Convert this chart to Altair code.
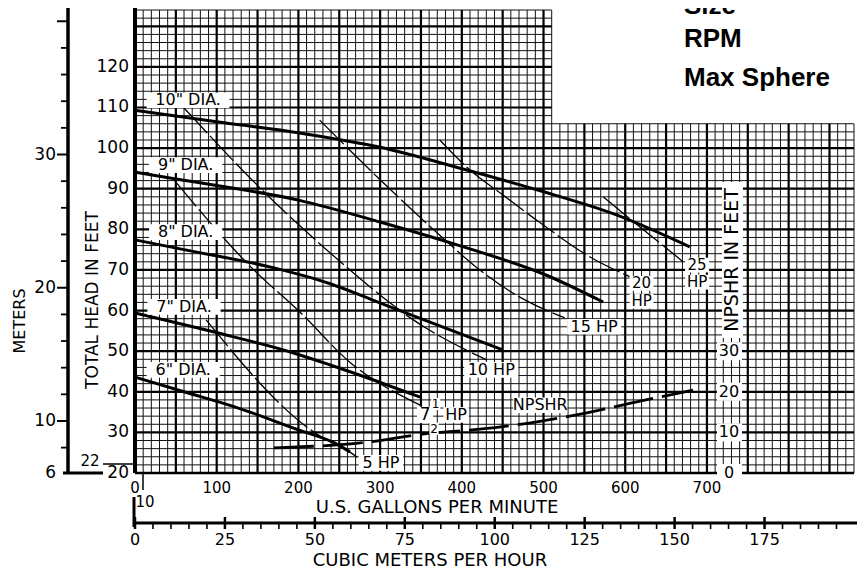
import altair as alt
import pandas as pd

# ---------------- values ----------------
GPM_TICKS = [0, 100, 200, 300, 400, 500, 600, 700]
HEAD_TICKS = [20, 30, 40, 50, 60, 70, 80, 90, 100, 110, 120]
M3H_TICKS = [0, 25, 50, 75, 100, 125, 150, 175]
METER_LABELS = [6, 10, 20, 30]
NPSHR_TICKS = [0, 10, 20, 30]

DIA10_GPM = [0, 100, 202, 300, 406, 496, 590, 679]
DIA10_FT = [109.3, 106.5, 103.7, 100.2, 94.6, 89.5, 83.5, 75.7]
DIA9_GPM = [0, 50, 100, 200, 300, 400, 500, 573]
DIA9_FT = [94.1, 92.4, 90.8, 87.2, 81.8, 75.8, 69.0, 62.1]
DIA8_GPM = [0, 60, 170, 239, 292, 345, 450]
DIA8_FT = [77.4, 75.0, 70.5, 66.6, 62.5, 58.4, 50.3]
DIA7_GPM = [0, 97, 195, 239, 292, 349]
DIA7_FT = [59.4, 54.7, 49.5, 46.6, 42.9, 38.7]
DIA6_GPM = [0, 60, 122, 200, 244, 263]
DIA6_FT = [43.6, 40.0, 36.3, 30.6, 27.4, 25.2]

HP5_GPM = [87, 228, 259, 272]
HP5_FT = [57.7, 28.9, 25.7, 23.9]
HP7_GPM = [48, 142, 203, 264, 349]
HP7_FT = [92.1, 70.7, 59.4, 47.1, 36.7]
HP10_GPM = [60, 158, 259, 312, 337, 431]
HP10_FT = [109.9, 89.2, 70.7, 61.9, 58.2, 47.8]
HP15_GPM = [226, 300, 370, 422, 471, 526]
HP15_FT = [106.9, 92.2, 79.1, 70.0, 63.3, 58.2]
HP20_GPM = [373, 410, 450, 496, 557, 606]
HP20_FT = [102.0, 94.6, 88.5, 81.6, 73.2, 68.3]
HP25_GPM = [573, 618, 671]
HP25_FT = [88.0, 80.6, 72.0]

NPSHR_GPM = [170, 284, 352, 422, 492, 553, 618, 683]
NPSHR_FT = [6.2, 7.6, 9.6, 10.8, 12.6, 14.8, 17.7, 20.4]

CURVE_LABELS = ['10" DIA.', '9" DIA.', '8" DIA.', '7" DIA.', '6" DIA.',
                "5 HP", "7", "HP", "10 HP", "15 HP", "20", "HP", "25", "HP", "NPSHR"]
LABEL_GPM = [65, 62, 62, 60, 59, 301, 355, 393, 436, 562, 620, 620, 688, 688, 496]
LABEL_FT = [111.8, 95.8, 79.3, 60.9, 45.4, 22.5, 34.3, 34.3, 45.4, 56.0,
            66.7, 62.3, 71.2, 67.0, 36.7]
LABEL_SIZE = [16, 16, 16, 16, 16, 16, 17, 16, 16, 16, 15, 15, 15, 15, 16]
FRAC_TEXT = ["1", "2"]
FRAC_GPM = [368, 366]
FRAC_FT = [37.0, 30.9]

GPM_PER_M3H = 4.40287
FT_PER_M = 3.28084
HEAD_MIN, HEAD_MAX = 20, 134.5
GPM_MAX = 880
UPPER_GPM = 510      # upper part of the grid paper ends here
RIGHT_TOP = 106      # right part of the grid paper starts at this head

W, H = 719, 465
PX_PER_GPM = W / GPM_MAX
PX_PER_FT = H / (HEAD_MAX - HEAD_MIN)

FONT = "DejaVu Sans"

XS = alt.Scale(domain=[0, GPM_MAX], nice=False, zero=False)
YS = alt.Scale(domain=[HEAD_MIN, HEAD_MAX], nice=False, zero=False)


def X(f):
    return alt.X(f, type="quantitative", scale=XS, axis=None)


def Y(f):
    return alt.Y(f, type="quantitative", scale=YS, axis=None)


# ---------------- grid paper ----------------
v_rows = []
for g in range(0, GPM_MAX + 1, 10):
    top = 134 if g <= UPPER_GPM else RIGHT_TOP
    v_rows.append({"gpm": g, "y0": HEAD_MIN, "y1": top, "heavy": g % 50 == 0})
vgrid = pd.DataFrame(v_rows)
h_rows = []
for h in range(HEAD_MIN, 135, 2):
    right = UPPER_GPM if h > RIGHT_TOP else GPM_MAX
    h_rows.append({"ft": h, "x0": 0, "x1": right, "heavy": h % 10 == 0})
hgrid = pd.DataFrame(h_rows)

grid_v_minor = alt.Chart(vgrid[~vgrid.heavy]).mark_rule(color="#111", strokeWidth=1).encode(
    x=X("gpm"), y=Y("y0"), y2=alt.Y2("y1"))
grid_h_minor = alt.Chart(hgrid[~hgrid.heavy]).mark_rule(color="#111", strokeWidth=1).encode(
    y=Y("ft"), x=X("x0"), x2=alt.X2("x1"))
grid_v_major = alt.Chart(vgrid[vgrid.heavy]).mark_rule(color="black", strokeWidth=2.2).encode(
    x=X("gpm"), y=Y("y0"), y2=alt.Y2("y1"))
grid_h_major = alt.Chart(hgrid[hgrid.heavy]).mark_rule(color="black", strokeWidth=2.2).encode(
    y=Y("ft"), x=X("x0"), x2=alt.X2("x1"))

frame_left = alt.Chart(pd.DataFrame({"gpm": [0], "a": [HEAD_MIN], "b": [HEAD_MAX]})).mark_rule(
    color="black", strokeWidth=4).encode(x=X("gpm"), y=Y("a"), y2=alt.Y2("b"))
frame_bottom = alt.Chart(pd.DataFrame({"ft": [HEAD_MIN], "a": [0], "b": [GPM_MAX]})).mark_rule(
    color="black", strokeWidth=2.5).encode(y=Y("ft"), x=X("a"), x2=alt.X2("b"))


# ---------------- curves ----------------
def long(pairs):
    rows = []
    for name, xs, ys in pairs:
        for a, b in zip(xs, ys):
            rows.append({"series": name, "gpm": a, "ft": b})
    return pd.DataFrame(rows)


dia_df = long([("10in", DIA10_GPM, DIA10_FT), ("9in", DIA9_GPM, DIA9_FT),
               ("8in", DIA8_GPM, DIA8_FT), ("7in", DIA7_GPM, DIA7_FT),
               ("6in", DIA6_GPM, DIA6_FT)])
hp_df = long([("5hp", HP5_GPM, HP5_FT), ("7.5hp", HP7_GPM, HP7_FT),
              ("10hp", HP10_GPM, HP10_FT), ("15hp", HP15_GPM, HP15_FT),
              ("20hp", HP20_GPM, HP20_FT), ("25hp", HP25_GPM, HP25_FT)])
npshr_df = pd.DataFrame({"gpm": NPSHR_GPM, "npshr": NPSHR_FT})

hp_lines = alt.Chart(hp_df).mark_line(
    color="black", strokeWidth=1.3, strokeDash=[34, 4], interpolate="monotone").encode(
    x=X("gpm"), y=Y("ft"), detail="series:N")
dia_lines = alt.Chart(dia_df).mark_line(
    color="black", strokeWidth=3, interpolate="monotone").encode(
    x=X("gpm"), y=Y("ft"), detail="series:N")
npshr_line = alt.Chart(npshr_df).transform_calculate(
    pos=f"datum.npshr + {HEAD_MIN}").mark_line(
    color="black", strokeWidth=2.8, strokeDash=[40, 9], interpolate="monotone").encode(
    x=X("gpm"), y=Y("pos"))


# ---------------- labels on the grid, each on a white box ----------------
def with_box(df, pad=3):
    d = df.copy()
    wpx = d["t"].str.len() * 0.6 * d["size"] + 2 * pad
    hpx = d["size"] * 0.85 + 2
    d["bx0"] = d["gpm"] - wpx / 2 / PX_PER_GPM
    d["bx1"] = d["gpm"] + wpx / 2 / PX_PER_GPM
    d["by0"] = d["ft"] - hpx / 2 / PX_PER_FT
    d["by1"] = d["ft"] + hpx / 2 / PX_PER_FT
    return d


lab_df = with_box(pd.DataFrame({"t": CURVE_LABELS, "gpm": LABEL_GPM, "ft": LABEL_FT,
                                "size": LABEL_SIZE}))
frac_df = with_box(pd.DataFrame({"t": FRAC_TEXT, "gpm": FRAC_GPM, "ft": FRAC_FT,
                                 "size": [12, 12]}), pad=1)
box_df = pd.concat([lab_df, frac_df], ignore_index=True)

label_boxes = alt.Chart(box_df).mark_rect(color="white").encode(
    x=X("bx0"), x2=alt.X2("bx1"), y=Y("by0"), y2=alt.Y2("by1"))
labels = alt.Chart(box_df).mark_text(font=FONT, align="center", baseline="middle",
                                     color="black").encode(
    x=X("gpm"), y=Y("ft"), text="t:N",
    size=alt.Size("size:Q", scale=None, legend=None))

npshr_tick_df = pd.DataFrame({"t": [str(v) for v in NPSHR_TICKS], "v": NPSHR_TICKS})
npshr_tick_df["pos"] = npshr_tick_df["v"] + HEAD_MIN
npshr_tick_df["b0"] = npshr_tick_df["pos"] - 9 / PX_PER_FT
npshr_tick_df["b1"] = npshr_tick_df["pos"] + 9 / PX_PER_FT
npshr_boxes = alt.Chart(npshr_tick_df).mark_rect(color="white").encode(
    x=alt.value(582), x2=alt.value(607), y=Y("b0"), y2=alt.Y2("b1"))
npshr_ticks = alt.Chart(npshr_tick_df).mark_text(
    font=FONT, fontSize=16, align="center", baseline="middle").encode(
    x=alt.value(594), y=Y("pos"), text="t:N")
npshr_title_box = alt.Chart(pd.DataFrame({"a": [0]})).mark_rect(color="white").encode(
    x=alt.value(587), x2=alt.value(608), y=alt.value(174), y2=alt.value(330))
npshr_title = alt.Chart(pd.DataFrame({"t": ["NPSHR IN FEET"]})).mark_text(
    font=FONT, fontSize=19, angle=270, align="center", baseline="middle").encode(
    x=alt.value(597), y=alt.value(252), text="t:N")

# ---------------- axes drawn as marks ----------------
head_lab = alt.Chart(pd.DataFrame({"v": HEAD_TICKS})).mark_text(
    font=FONT, fontSize=17, align="right", baseline="middle").encode(
    x=alt.value(-6), y=Y("v"), text="v:Q")

gpm_lab = alt.Chart(pd.DataFrame({"v": GPM_TICKS})).mark_text(
    font=FONT, fontSize=15, align="center", baseline="middle").encode(
    x=X("v"), y=alt.value(480), text="v:Q")

m3h_df = pd.DataFrame({"v": M3H_TICKS})
m3h_df["gpm"] = m3h_df["v"] * GPM_PER_M3H
m3h_lab = alt.Chart(m3h_df).mark_text(
    font=FONT, fontSize=16, align="center", baseline="middle").encode(
    x=X("gpm"), y=alt.value(532), text="v:Q")
m3h_major = alt.Chart(m3h_df).mark_rule(color="black", strokeWidth=2.5).encode(
    x=X("gpm"), y=alt.value(509), y2=alt.value(521))
minor_vals = [v for v in range(5, 200, 5) if v % 25 != 0]
m3h_minor_df = pd.DataFrame({"gpm": [v * GPM_PER_M3H for v in minor_vals]})
m3h_minor = alt.Chart(m3h_minor_df).mark_rule(color="black", strokeWidth=1.6).encode(
    x=X("gpm"), y=alt.value(515), y2=alt.value(521))
m3h_axis = alt.Chart(pd.DataFrame({"a": [0]})).mark_rule(color="black", strokeWidth=3).encode(
    x=alt.value(-1), x2=alt.value(722), y=alt.value(515))
m3h_stub = alt.Chart(pd.DataFrame({"a": [0]})).mark_rule(color="black", strokeWidth=3).encode(
    x=alt.value(-1), y=alt.value(489), y2=alt.value(519))
zero_tick = alt.Chart(pd.DataFrame({"a": [0]})).mark_rule(color="black", strokeWidth=1.5).encode(
    x=alt.value(8), y=alt.value(465), y2=alt.value(482))

# meters axis
m_all = list(range(8, 41, 2))
m_df = pd.DataFrame({"m": m_all})
m_df["ft"] = m_df["m"] * FT_PER_M
m_df["major"] = m_df["m"] % 10 == 0
meter_axis = alt.Chart(pd.DataFrame({"a": [0]})).mark_rule(color="black", strokeWidth=3.5).encode(
    x=alt.value(-67), y=alt.value(0), y2=alt.value(465))
meter_base = alt.Chart(pd.DataFrame({"a": [0]})).mark_rule(color="black", strokeWidth=3).encode(
    x=alt.value(-72), x2=alt.value(-32), y=alt.value(465))
meter_minor = alt.Chart(m_df[~m_df.major]).mark_rule(color="black", strokeWidth=1.8).encode(
    x=alt.value(-74), x2=alt.value(-67), y=Y("ft"))
meter_major = alt.Chart(m_df[m_df.major]).mark_rule(color="black", strokeWidth=2).encode(
    x=alt.value(-78), x2=alt.value(-67), y=Y("ft"))
ml_df = pd.DataFrame({"m": METER_LABELS})
ml_df["ft"] = (ml_df["m"] * FT_PER_M).clip(lower=HEAD_MIN)
meter_lab = alt.Chart(ml_df).mark_text(
    font=FONT, fontSize=17, align="right", baseline="middle").encode(
    x=alt.value(-79), y=Y("ft"), text="m:Q")

small_txt = pd.DataFrame({"t": ["22", "10"], "x": [-45, 10], "y": [453, 494]})
small_lab = alt.Chart(small_txt).mark_text(
    font=FONT, fontSize=15, align="center", baseline="middle").encode(
    x=alt.X("x:Q", scale=None), y=alt.Y("y:Q", scale=None), text="t:N")
line22 = alt.Chart(pd.DataFrame({"a": [0]})).mark_rule(color="black", strokeWidth=1.5).encode(
    x=alt.value(-32), x2=alt.value(-1), y=alt.value(456))

titles_df = pd.DataFrame({
    "t": ["U.S. GALLONS PER MINUTE", "CUBIC METERS PER HOUR"],
    "x": [302, 295], "y": [500, 553]})
titles = alt.Chart(titles_df).mark_text(
    font=FONT, fontSize=18, align="center", baseline="middle").encode(
    x=alt.X("x:Q", scale=None), y=alt.Y("y:Q", scale=None), text="t:N")

head_title = alt.Chart(pd.DataFrame({"t": ["TOTAL HEAD IN FEET"]})).mark_text(
    font=FONT, fontSize=17, angle=270, align="center", baseline="middle").encode(
    x=alt.value(-42), y=alt.value(292), text="t:N")
meter_title = alt.Chart(pd.DataFrame({"t": ["METERS"]})).mark_text(
    font=FONT, fontSize=16, angle=270, align="center", baseline="middle").encode(
    x=alt.value(-115), y=alt.value(313), text="t:N")

info_df = pd.DataFrame({"t": ["Size", "RPM", "Max Sphere"], "y": [6, 39, 78]})
info = alt.Chart(info_df).mark_text(
    font="Liberation Sans", fontSize=26, fontWeight="bold", align="left",
    baseline="alphabetic").encode(
    x=alt.value(549), y=alt.Y("y:Q", scale=None), text="t:N")

layers = [grid_v_minor, grid_h_minor, grid_v_major, grid_h_major, frame_left, frame_bottom,
          hp_lines, dia_lines, npshr_line, label_boxes, labels,
          npshr_boxes, npshr_ticks, npshr_title_box, npshr_title,
          head_lab, gpm_lab, m3h_lab, m3h_major, m3h_minor, m3h_axis, m3h_stub, zero_tick,
          meter_axis, meter_base, meter_minor, meter_major, meter_lab, small_lab, line22,
          titles, head_title, meter_title, info]

chart = alt.layer(*layers).properties(
    width=W, height=H,
    padding={"left": 127, "top": 0, "right": 3, "bottom": 102},
    autosize=alt.AutoSizeParams(type="none"),
    background="white",
).configure_view(stroke=None)

chart.save("out.html", embed_options={"renderer": "svg", "actions": False})
